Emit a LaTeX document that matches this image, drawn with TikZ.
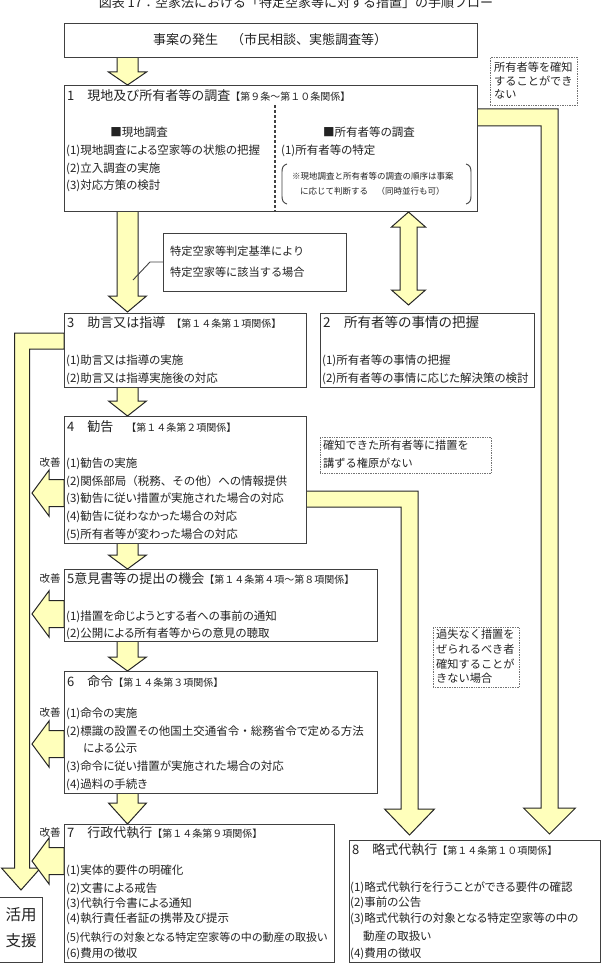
\documentclass[tikz,border=0pt]{standalone}
\usepackage{fontspec}
\setmainfont{Noto Sans CJK JP}[RawFeature=+palt]
\newfontfamily\fw{Noto Sans CJK JP}
\definecolor{ylw}{RGB}{255,255,187}
\definecolor{boxc}{RGB}{64,64,64}
\definecolor{txtc}{RGB}{35,35,35}
\newcommand\VArr[6]{\draw[yarrow] ({#1-#5},#2) -- ({#1-#5},#3) -- ({#1-#6},#3) -- (#1,#4) -- ({#1+#6},#3) -- ({#1+#5},#3) -- ({#1+#5},#2) -- cycle;}
\newcommand\LArr[1]{\draw[yarrow] (64,{#1-13.5}) -- (49,{#1-13.5}) -- (49,{#1-23}) -- (32,#1) -- (49,{#1+23}) -- (49,{#1+13.5}) -- (64,{#1+13.5}) -- cycle;}
\newcommand\jbrk[1]{{\fw\fontsize{10}{12}\selectfont #1}}
\begin{document}
\begin{tikzpicture}[x=1pt,y=-1pt,
  box/.style={draw=boxc, line width=1.1pt, fill=white, inner sep=0pt, anchor=north west},
  dbox/.style={draw=black!55, densely dotted, line width=0.7pt, fill=white, inner sep=0pt, anchor=north west},
  yarrow/.style={fill=ylw, draw=black!85, line width=1pt, line join=miter},
  item/.style={anchor=west, inner sep=0pt, text=txtc, font=\fontsize{11.5}{13}\selectfont, text height=10.1pt, text depth=1.4pt},
  ttl/.style={anchor=west, inner sep=0pt, text=txtc, font=\fw\fontsize{13}{15}\selectfont, text height=11.4pt, text depth=1.6pt},
  note/.style={anchor=west, inner sep=0pt, text=txtc, font=\fw\fontsize{11.2}{13}\selectfont, text height=9.9pt, text depth=1.3pt},
  sml/.style={anchor=west, inner sep=0pt, text=txtc, font=\fw\fontsize{8.5}{10}\selectfont, text height=7.5pt, text depth=1pt},
  kz/.style={anchor=center, inner sep=0pt, text=txtc, font=\fontsize{10.5}{12}\selectfont},
  big/.style={anchor=center, inner sep=0pt, text=txtc, font=\fontsize{15.5}{18}\selectfont}
]
\useasboundingbox (0,0) rectangle (603,963);

% title (cut at top, as in the reference)
\node[inner sep=0pt, text=txtc, font=\fw\fontsize{13}{15}\selectfont] (title) at (296,2.5) {図表 17：空家法における「特定空家等に対する措置」の手順フロー};

% pipes and block arrows
\draw[yarrow] (477,109) -- (558,109) -- (558,808) -- (575.5,808) -- (549.5,834) -- (523.5,808) -- (541,808) -- (541,126) -- (477,126) -- cycle;
\draw[yarrow] (306,491) -- (418,491) -- (418,809) -- (434.5,809) -- (409.5,835) -- (384.5,809) -- (401,809) -- (401,507) -- (306,507) -- cycle;
\draw[yarrow] (64,333) -- (14.5,333) -- (14.5,868) -- (1.5,868) -- (21,890) -- (40.5,868) -- (29.5,868) -- (29.5,349) -- (64,349) -- cycle;
\draw[yarrow] (408.5,212) -- (425.5,227) -- (417,227) -- (417,290) -- (425.5,290) -- (408.5,305) -- (391.5,290) -- (400,290) -- (400,227) -- (391.5,227) -- cycle;
\VArr{127.5}{57}{72}{85}{10.5}{19}
\VArr{127.5}{211}{296}{312}{10.5}{19}
\VArr{127.5}{387}{401}{416}{10.5}{19}
\VArr{127.5}{543}{555}{569}{10.5}{19}
\VArr{127.5}{641}{657}{671}{10.5}{19}
\VArr{127.5}{793}{803}{824}{10.5}{19}
\LArr{493}
\LArr{614}
\LArr{744}
\LArr{861}

% boxes
\node[box, minimum width=413pt, minimum height=34pt] (top) at (64,23) {};
\node[box, minimum width=413pt, minimum height=126pt] (b1) at (64,85) {};
\node[box, minimum width=242pt, minimum height=74pt] (b3) at (64,313) {};
\node[box, minimum width=214pt, minimum height=74pt] (b2) at (320,313) {};
\node[box, minimum width=242pt, minimum height=127pt] (b4) at (64,416) {};
\node[box, minimum width=313pt, minimum height=72pt] (b5) at (64,569) {};
\node[box, minimum width=313pt, minimum height=122pt] (b6) at (64,671) {};
\node[box, minimum width=270pt, minimum height=138pt] (b7) at (64,824) {};
\node[box, minimum width=251pt, minimum height=122pt] (b8) at (349,840) {};
\node[box, minimum width=43pt, minimum height=65pt] (kys) at (-1,897) {};
\node[box, line width=0.9pt, minimum width=183pt, minimum height=58pt] (cond) at (163,233) {};
\node[dbox, minimum width=87pt, minimum height=48pt] (d1) at (490,57) {};
\node[dbox, minimum width=171pt, minimum height=36pt] (d2) at (320,437) {};
\node[dbox, minimum width=86pt, minimum height=60pt] (d3) at (433,627) {};

% callout line
\coordinate (cl) at (133,280);
\draw[boxc, line width=0.9pt] (cond.west |- 0,262) -- (150,262) -- (cl);

% box 1 details
\draw[boxc, line width=1.1pt, densely dashed] (275,105) -- (275,211);
\draw[boxc, line width=0.9pt] (287,164) .. controls (283,165) and (282,168) .. (282,172) -- (282,196) .. controls (282,200) and (283,203) .. (287,204);
\draw[boxc, line width=0.9pt] (466,164) .. controls (470,165) and (471,168) .. (471,172) -- (471,196) .. controls (471,200) and (470,203) .. (466,204);

% texts
\node[ttl, anchor=center] (ttop) at (270,40) {事案の発生　（市民相談、実態調査等）};

\node[ttl] (t1) at (67,96) {1　現地及び所有者等の調査\jbrk{【第９条～第１０条関係】}};
\node[item, anchor=center] (t1a) at (139,132) {■現地調査};
\node[item] (t1a1) at (66,150) {(1)現地調査による空家等の状態の把握};
\node[item] (t1a2) at (66,168) {(2)立入調査の実施};
\node[item] (t1a3) at (66,185) {(3)対応方策の検討};
\node[item, anchor=center] (t1b) at (369,132) {■所有者等の調査};
\node[item] (t1b1) at (281,150) {(1)所有者等の特定};
\node[sml] (t1n1) at (292,176) {※現地調査と所有者等の調査の順序は事案};
\node[sml] (t1n2) at (300,191) {に応じて判断する　（同時並行も可）};

\node[note] (c1) at (170,251) {特定空家等判定基準により};
\node[note] (c2) at (170,272) {特定空家等に該当する場合};

\node[note] (d1a) at (494,67) {所有者等を確知};
\node[note] (d1b) at (494,81) {することができ};
\node[note] (d1c) at (494,94.5) {ない};

\node[ttl] (t3) at (67,323) {3　助言又は指導\hspace{6pt}\jbrk{【第１４条第１項関係】}};
\node[item] (t31) at (66,360) {(1)助言又は指導の実施};
\node[item] (t32) at (66,378) {(2)助言又は指導実施後の対応};

\node[ttl, font=\fw\fontsize{13.5}{15}\selectfont] (t2) at (323,323) {2　所有者等の事情の把握};
\node[item] (t21) at (322,360) {(1)所有者等の事情の把握};
\node[item] (t22) at (322,378) {(2)所有者等の事情に応じた解決策の検討};

\node[ttl] (t4) at (67,427) {4　勧告　\jbrk{【第１４条第２項関係】}};
\node[item] (t41) at (66,463) {(1)勧告の実施};
\node[item] (t42) at (66,481) {(2)関係部局{\fw （税務、その他）}への情報提供};
\node[item] (t43) at (66,498) {(3)勧告に従い措置が実施された場合の対応};
\node[item] (t44) at (66,516) {(4)勧告に従わなかった場合の対応};
\node[item] (t45) at (66,534) {(5)所有者等が変わった場合の対応};

\node[note] (d2a) at (323,445) {確知できた所有者等に措置を};
\node[note] (d2b) at (323,463) {講ずる権原がない};

\node[ttl] (t5) at (67,579) {5意見書等の提出の機会\jbrk{【第１４条第４項～第８項関係】}};
\node[item] (t51) at (66,616) {(1)措置を命じようとする者への事前の通知};
\node[item] (t52) at (66,633) {(2)公開による所有者等からの意見の聴取};

\node[note] (d3a) at (436,634) {過失なく措置を};
\node[note] (d3b) at (436,649) {ぜられるべき者};
\node[note] (d3c) at (436,664) {確知することが};
\node[note] (d3d) at (436,678) {きない場合};

\node[ttl] (t6) at (67,682) {6　命令\jbrk{【第１４条第３項関係】}};
\node[item] (t61) at (66,713) {(1)命令の実施};
\node[item] (t62) at (66,731) {(2)標識の設置その他国土交通省令{\fw ・}総務省令で定める方法};
\node[item] (t62b) at (83,748) {による公示};
\node[item] (t63) at (66,766) {(3)命令に従い措置が実施された場合の対応};
\node[item] (t64) at (66,784) {(4)過料の手続き};

\node[ttl] (t7) at (67,833) {7　行政代執行\jbrk{【第１４条第９項関係】}};
\node[item] (t71) at (66,870) {(1)実体的要件の明確化};
\node[item] (t72) at (66,888) {(2)文書による戒告};
\node[item] (t73) at (66,903) {(3)代執行令書による通知};
\node[item] (t74) at (66,918) {(4)執行責任者証の携帯及び提示};
\node[item, font=\fontsize{11}{13}\selectfont] (t75) at (66,937) {(5)代執行の対象となる特定空家等の中の動産の取扱い};
\node[item] (t76) at (66,953) {(6)費用の徴収};

\node[ttl] (t8) at (352,850) {8　略式代執行\jbrk{【第１４条第１０項関係】}};
\node[item] (t81) at (350,887) {(1)略式代執行を行うことができる要件の確認};
\node[item] (t82) at (350,902) {(2)事前の公告};
\node[item] (t83) at (350,918) {(3)略式代執行の対象となる特定空家等の中の};
\node[item] (t83b) at (363,936) {動産の取扱い};
\node[item] (t84) at (350,953) {(4)費用の徴収};

\node[kz] (k4) at (50,463) {改善};
\node[kz] (k5) at (50,579) {改善};
\node[kz] (k6) at (50,713) {改善};
\node[kz] (k7) at (50,833) {改善};

\node[big] (kys1) at (21,915) {活用};
\node[big] (kys2) at (21,941) {支援};
\end{tikzpicture}
\end{document}
